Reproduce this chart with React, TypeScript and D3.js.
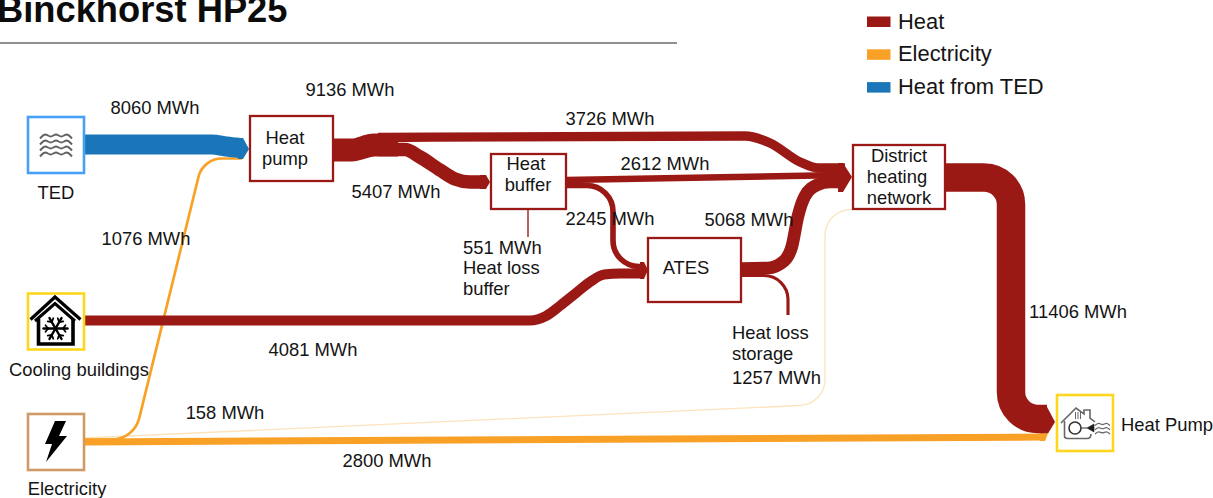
import React from "react";
import * as d3 from "d3";

// Energy flows in MWh
const flowValues = {
  ted: 8060,
  pumpElectricity: 1076,
  pumpOut: 9136,
  direct: 3726,
  toBuffer: 5407,
  bufferDirect: 2612,
  bufferToAtes: 2245,
  bufferLoss: 551,
  cooling: 4081,
  atesOut: 5068,
  atesLoss: 1257,
  network: 11406,
  networkElectricity: 158,
  heatPumpElectricity: 2800,
};

const HEAT = "#9b1915";
const ELECTRICITY = "#f9a026";
const TED = "#1a76b8";
const PALE = "#fde3bd";
const INK = "#141414";
const FONT = "'Liberation Sans', Arial, sans-serif";
const LABEL_SIZE = 18.4;

const legendLabels = ["Heat", "Electricity", "Heat from TED"];
const legendColors = [HEAT, ELECTRICITY, TED];

// Ribbon thickness is proportional to energy; very small flows keep a visible hairline
const width = d3.scaleLinear().domain([0, 11406]).range([0, 28.5]);
const ribbon = (v: number) => Math.max(width(v), 1.3);

type Pt = [number, number, number?];

// Routes as waypoints. Cornered routes carry a radius as the third number, smooth ones follow a monotone curve
const routes: { key: keyof typeof flowValues; color: string; smooth?: boolean; pts: Pt[] }[] = [
  { key: "networkElectricity", color: PALE, pts: [[85, 438], [790, 406, 20], [825, 404, 26], [825, 210, 26], [852, 209.5]] },
  { key: "heatPumpElectricity", color: ELECTRICITY, pts: [[85, 442], [1044, 437]] },
  { key: "pumpElectricity", color: ELECTRICITY, pts: [[85, 439.5], [134, 439.5, 28], [203, 158.5, 24], [242, 158.5]] },
  { key: "ted", color: TED, smooth: true, pts: [[85, 144.5], [212, 144.5], [226, 146.5], [240, 148]] },
  { key: "pumpOut", color: HEAT, smooth: true, pts: [[333, 150], [352, 150], [374, 145], [398, 145]] },
  { key: "direct", color: HEAT, smooth: true, pts: [[378, 137.5], [745, 136], [770, 143], [800, 162], [818, 168], [845, 168]] },
  { key: "toBuffer", color: HEAT, smooth: true, pts: [[378, 149.5], [405, 149.5], [420, 157], [440, 170], [455, 179], [470, 182], [482, 182]] },
  { key: "bufferDirect", color: HEAT, pts: [[566, 180], [845, 175]] },
  { key: "bufferToAtes", color: HEAT, pts: [[566, 185.5], [613, 185.5, 26], [613, 266.5, 26], [642, 266.5]] },
  { key: "bufferLoss", color: HEAT, pts: [[528, 209], [528, 237]] },
  { key: "cooling", color: HEAT, smooth: true, pts: [[85, 320.5], [530, 320.5], [546, 316], [561, 305], [576, 293], [590, 282], [604, 274.5], [620, 273.5], [642, 273.5]] },
  { key: "atesOut", color: HEAT, smooth: true, pts: [[741, 268.5], [768, 268], [784, 261], [792, 246], [798, 216], [805, 196], [817, 185], [830, 182], [845, 182]] },
  { key: "atesLoss", color: HEAT, pts: [[741, 275.5], [788, 275.5, 24], [788, 315]] },
  { key: "network", color: HEAT, pts: [[946, 177.5], [1011, 177.5, 27], [1011, 419, 27], [1047, 419]] },
];

// Pointed flow ends where ribbons meet a node
const arrowHeads: { color: string; pts: [number, number][] }[] = [
  { color: TED, pts: [[238, 138], [243, 138], [249, 149], [243, 159], [238, 159]] },
  { color: HEAT, pts: [[480, 175], [486, 175], [490, 182], [486, 189], [480, 189]] },
  { color: HEAT, pts: [[640, 262], [644, 262], [648, 270], [644, 279], [640, 279]] },
  { color: HEAT, pts: [[838, 163], [843, 163], [852, 177], [843, 192], [838, 192]] },
  { color: HEAT, pts: [[1040, 405], [1046, 405], [1055, 422], [1048, 433.5], [1040, 433.5]] },
  { color: ELECTRICITY, pts: [[1040, 433.5], [1048, 433.5], [1045, 441], [1040, 441]] },
];

const processNodes = [
  { x: 250, y: 116, w: 83, h: 65, lines: ["Heat", "pump"], tx: [285, 285], ty: [144, 165] },
  { x: 491, y: 154, w: 75, h: 55, lines: ["Heat", "buffer"], tx: [526, 528], ty: [170, 191] },
  { x: 648, y: 238, w: 93, h: 64, lines: ["ATES"], tx: [686], ty: [274] },
  { x: 853, y: 145, w: 92, h: 64, lines: ["District", "heating", "network"], tx: [899, 897, 899], ty: [162, 183, 204] },
];

const iconBoxes = [
  { x: 28, y: 117, stroke: "#47a0f5" },
  { x: 28, y: 293.5, stroke: "#ffd61e" },
  { x: 28, y: 414, stroke: "#cf9a66" },
  { x: 1057, y: 395, stroke: "#ffd61e" },
];

const labels: [string, number, number][] = [
  ["8060 MWh", 155, 114],
  ["9136 MWh", 350, 96],
  ["3726 MWh", 610, 125],
  ["2612 MWh", 665, 170],
  ["5407 MWh", 396, 198],
  ["2245 MWh", 610, 225],
  ["5068 MWh", 749, 226],
  ["1076 MWh", 146, 245],
  ["4081 MWh", 313, 356],
  ["158 MWh", 225, 419],
  ["2800 MWh", 387, 467],
  ["11406 MWh", 1078, 318],
];

const leftLabels: [string, number, number][] = [
  ["551 MWh", 463, 254],
  ["Heat loss", 463, 274],
  ["buffer", 463, 295],
  ["Heat loss", 732, 339],
  ["storage", 732, 360],
  ["1257 MWh", 732, 384],
  ["Heat Pump", 1121, 431],
];

const nodeNames: [string, number, number][] = [
  ["TED", 56, 199],
  ["Cooling buildings", 79, 376],
  ["Electricity", 67, 495],
];

const smoothLine = d3.line().curve(d3.curveMonotoneX);
const wave = d3.line().curve(d3.curveBasis);

function routePath(pts: Pt[], smooth?: boolean) {
  if (smooth) return smoothLine(pts.map((p) => [p[0], p[1]] as [number, number])) ?? "";
  const p = d3.path();
  p.moveTo(pts[0][0], pts[0][1]);
  pts.slice(1).forEach((pt, i) => {
    const next = pts[i + 2];
    if (pt[2] && next) p.arcTo(pt[0], pt[1], next[0], next[1], pt[2]);
    else p.lineTo(pt[0], pt[1]);
  });
  return p.toString();
}

function Waves({ x, y, w, periods, amp, color, sw }: { x: number; y: number; w: number; periods: number; amp: number; color: string; sw: number }) {
  const n = periods * 2;
  const pts: [number, number][] = d3.range(0, n + 1).map((i) => [x + (i * w) / n, y + (i % 2 ? -amp : amp)]);
  return <path d={wave(pts) ?? ""} fill="none" stroke={color} strokeWidth={sw} />;
}

// Six armed snowflake with small side branches
function Snowflake({ cx, cy, r }: { cx: number; cy: number; r: number }) {
  return (
    <g stroke="#000" fill="none" strokeLinecap="round">
      {d3.range(6).map((i) => {
        const a = (i * Math.PI) / 3;
        const u = Math.cos(a);
        const v = Math.sin(a);
        const bx = cx + u * r * 0.62;
        const by = cy + v * r * 0.62;
        const s = r * 0.34;
        return (
          <g key={i}>
            <line x1={cx} y1={cy} x2={cx + u * r} y2={cy + v * r} strokeWidth={2.4} />
            <line x1={bx} y1={by} x2={bx + Math.cos(a + 0.9) * s} y2={by + Math.sin(a + 0.9) * s} strokeWidth={1.8} />
            <line x1={bx} y1={by} x2={bx + Math.cos(a - 0.9) * s} y2={by + Math.sin(a - 0.9) * s} strokeWidth={1.8} />
          </g>
        );
      })}
    </g>
  );
}

export default function App() {
  return (
    <svg width={1213} height={498} style={{ position: "absolute", left: 0, top: 0, background: "#fff" }} fontFamily={FONT}>
      <text x={-3} y={21.5} fontSize={36.3} fontWeight="bold" fill="#0c0c0c">Binckhorst HP25</text>
      <line x1={0} x2={677} y1={43} y2={43} stroke="#222" strokeWidth={1.2} />

      {legendLabels.map((l, i) => (
        <g key={l}>
          <rect x={867} y={16.5 + i * 32.8} width={23.5} height={10.5} fill={legendColors[i]} />
          <text x={898} y={28.5 + i * 32.8} fontSize={21.9} fill={INK}>{l}</text>
        </g>
      ))}

      {routes.map((r) => (
        <path key={r.key} d={routePath(r.pts, r.smooth)} fill="none" stroke={r.color} strokeWidth={ribbon(flowValues[r.key])} />
      ))}
      {arrowHeads.map((h, i) => (
        <polygon key={i} points={h.pts.join(" ")} fill={h.color} />
      ))}

      {iconBoxes.map((b) => (
        <rect key={b.x + "-" + b.y} x={b.x} y={b.y} width={56} height={56} fill="#fff" stroke={b.stroke} strokeWidth={2.6} />
      ))}

      {/* TED water icon */}
      {d3.range(4).map((i) => (
        <Waves key={i} x={40} y={135.5 + i * 6} w={32} periods={3} amp={3} color="#626262" sw={1.9} />
      ))}

      {/* Cooling building icon */}
      <g fill="none" stroke="#000" strokeLinejoin="miter">
        <path d="M30.5 319.5 L55 297 L80.5 319.5" strokeWidth={3.2} />
        <path d="M35 321 L55 303.5 L75 321" strokeWidth={3} />
        <path d="M38.5 319 V344 H73 V319" strokeWidth={3.6} />
      </g>
      <Snowflake cx={55.5} cy={328.5} r={12} />

      {/* Electricity icon */}
      <path d="M55 421 L66 421 L59 436 L67 436 L46 462 L52 444 L45 444 Z" fill="#000" />

      {/* Heat pump icon */}
      <g fill="none" stroke="#666" strokeWidth={1.6}>
        <path d="M1061 423 L1076 408 L1084 414 L1084 410 L1090 410 L1090 418 L1095 422" />
        <path d="M1064.5 421 V436 Q1064.5 438.5 1068 438.5 H1087 Q1091 438.5 1091 434" />
        <path d="M1075.5 412 V419 M1078 412 V419 M1080.5 412 V419" strokeWidth={1} />
        <circle cx={1075} cy={428} r={6} stroke="#333" strokeWidth={1.6} />
        <path d="M1081 428 H1087" stroke="#333" strokeWidth={1} />
        <path d="M1087 428 L1094 424 V432 Z" fill="#1c1c1c" stroke="#1c1c1c" strokeWidth={0.6} />
        {d3.range(3).map((i) => (
          <Waves key={i} x={1095} y={424 + i * 4.2} w={15} periods={2} amp={1.6} color="#666" sw={1.2} />
        ))}
      </g>

      {processNodes.map((n) => (
        <g key={n.x}>
          <rect x={n.x} y={n.y} width={n.w} height={n.h} fill="#fff" stroke={HEAT} strokeWidth={2.3} />
          {n.lines.map((t, i) => (
            <text key={t} x={n.tx[i]} y={n.ty[i]} fontSize={LABEL_SIZE} textAnchor="middle" fill={INK}>{t}</text>
          ))}
        </g>
      ))}

      {labels.map(([t, x, y]) => (
        <text key={t} x={x} y={y} fontSize={LABEL_SIZE} textAnchor="middle" fill={INK}>{t}</text>
      ))}
      {leftLabels.map(([t, x, y]) => (
        <text key={t + x + y} x={x} y={y} fontSize={LABEL_SIZE} fill={INK}>{t}</text>
      ))}
      {nodeNames.map(([t, x, y]) => (
        <text key={t} x={x} y={y} fontSize={LABEL_SIZE} textAnchor="middle" fill={INK}>{t}</text>
      ))}
    </svg>
  );
}
